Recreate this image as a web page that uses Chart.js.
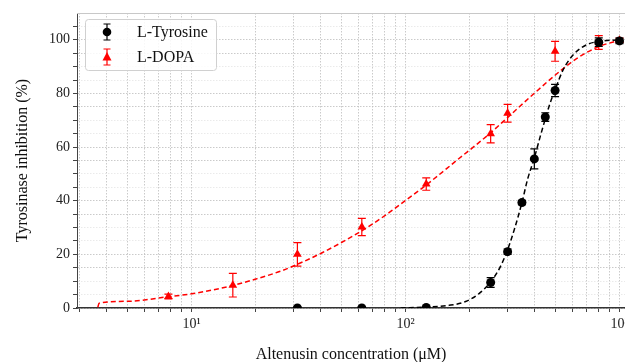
<!DOCTYPE html>
<html>
<head>
<meta charset="utf-8">
<script src="https://cdn.jsdelivr.net/npm/chart.js@4.4.0/dist/chart.umd.min.js"></script>
<style>
  html, body { margin: 0; padding: 0; background: #fff; }
  #wrap { width: 625px; height: 362px; }
</style>
</head>
<body>
<div id="wrap"><canvas id="chart" width="625" height="362"></canvas></div>
<script>
// L-Tyrosine: measured points (uM, % inhibition, +/- error)
const concTyr = [31.25, 62.5, 125, 250, 300, 350, 400, 450, 500, 800, 1000];
const inhTyr  = [0, 0, 0.2, 9.5, 21, 39.3, 55.6, 71.2, 81.1, 99.1, 99.6];
const errTyr  = [0.3, 0.3, 0.4, 1.8, 1.0, 0.8, 3.7, 1.6, 2.3, 1.6, 1.0];

// L-DOPA: measured points
const concDopa = [7.8, 15.6, 31.25, 62.5, 125, 250, 300, 500, 800, 1000];
const inhDopa  = [4.3, 8.5, 20, 30.2, 46.2, 65, 72.6, 95.7, 99, 99.8];
const errDopa  = [0.9, 4.4, 4.4, 3.2, 2.3, 3.4, 3.3, 3.7, 2.6, 0.8];

// fitted curves
const fitTyrX = [95, 127, 160, 191, 220, 247, 275, 297, 322, 350, 372, 400, 426, 450, 474, 500, 545, 608, 700, 800, 1000];
const fitTyrY = [0, 0.4, 1.0, 2.4, 5.3, 9.2, 14.8, 20.8, 29.1, 39.3, 48, 56, 63.9, 70.5, 76.4, 81.3, 88.8, 94.4, 98.1, 99.4, 100];
const fitDopaX = [3.65, 3.7, 5, 7.8, 10, 15.6, 20, 26, 31.25, 41, 62.5, 81, 94, 127, 172, 249, 296, 394, 500, 630, 795, 1000];
const fitDopaY = [0.3, 1.8, 2.5, 4.2, 5.3, 8.4, 10.8, 13.7, 16.3, 20.7, 28.8, 34.7, 38.5, 46.3, 54.8, 65.2, 70.6, 79.6, 86.8, 93, 97.4, 99.8];

// axis ticks
const xMajorTicks = [10, 100, 1000];
const xMajorLabels = ['10\u00B9', '10\u00B2', '10\u00B3'];
const yLabelStep = 20;

const serif = 'Liberation Serif';
const toPts = (xs, ys) => xs.map((x, i) => ({ x, y: ys[i] }));

/**
 * Draw vertical error bars with caps before a dataset's markers
 */
const errorBars = {
  id: 'errorBars',
  beforeDatasetDraw(chart, args) {
    const ds = chart.data.datasets[args.index];
    if (!ds.errors) return;
    const { ctx, chartArea, scales: { x, y } } = chart;
    ctx.save();
    ctx.beginPath();
    ctx.rect(chartArea.left, chartArea.top, chartArea.right - chartArea.left, chartArea.bottom - chartArea.top);
    ctx.clip();
    ctx.strokeStyle = ds.borderColor;
    ctx.lineWidth = 1.2;
    ds.data.forEach((p, i) => {
      const e = ds.errors[i];
      const px = x.getPixelForValue(p.x);
      const top = y.getPixelForValue(p.y + e);
      const bot = y.getPixelForValue(p.y - e);
      ctx.beginPath();
      ctx.moveTo(px, top); ctx.lineTo(px, bot);
      ctx.moveTo(px - 4, top); ctx.lineTo(px + 4, top);
      ctx.moveTo(px - 4, bot); ctx.lineTo(px + 4, bot);
      ctx.stroke();
    });
    ctx.restore();
  }
};

/**
 * Top frame line and the boxed legend with error-bar markers
 */
const frameAndLegend = {
  id: 'frameAndLegend',
  afterDraw(chart) {
    const { ctx, chartArea } = chart;
    ctx.save();
    ctx.strokeStyle = '#c8c8c8';
    ctx.lineWidth = 1;
    ctx.beginPath();
    ctx.moveTo(chartArea.left, chartArea.top + 0.5);
    ctx.lineTo(chartArea.right, chartArea.top + 0.5);
    ctx.stroke();

    // legend box
    ctx.fillStyle = 'rgba(255,255,255,0.85)';
    ctx.strokeStyle = '#d0d0d0';
    ctx.beginPath();
    ctx.roundRect(85.5, 19.5, 131, 51, 3);
    ctx.fill();
    ctx.stroke();

    const items = [
      { label: 'L-Tyrosine', color: '#000', y: 32, shape: 'circle' },
      { label: 'L-DOPA', color: '#f00', y: 57, shape: 'triangle' }
    ];
    items.forEach(it => {
      const mx = 107;
      ctx.strokeStyle = it.color;
      ctx.fillStyle = it.color;
      ctx.lineWidth = 1.2;
      ctx.beginPath();
      ctx.moveTo(mx, it.y - 8); ctx.lineTo(mx, it.y + 8);
      ctx.moveTo(mx - 3.5, it.y - 8); ctx.lineTo(mx + 3.5, it.y - 8);
      ctx.moveTo(mx - 3.5, it.y + 8); ctx.lineTo(mx + 3.5, it.y + 8);
      ctx.stroke();
      ctx.beginPath();
      if (it.shape === 'circle') {
        ctx.arc(mx, it.y, 4.3, 0, Math.PI * 2);
      } else {
        ctx.moveTo(mx, it.y - 5);
        ctx.lineTo(mx + 4.5, it.y + 3.5);
        ctx.lineTo(mx - 4.5, it.y + 3.5);
        ctx.closePath();
      }
      ctx.fill();
      ctx.fillStyle = '#111';
      ctx.font = `16px "${serif}"`;
      ctx.textBaseline = 'middle';
      ctx.textAlign = 'left';
      ctx.fillText(it.label, 137, it.y + 1);
    });
    ctx.restore();
  }
};

const gridGray = '#bdbdbd';

new Chart(document.getElementById('chart'), {
  type: 'scatter',
  data: {
    datasets: [
      {
        label: 'L-Tyrosine',
        data: toPts(concTyr, inhTyr),
        errors: errTyr,
        backgroundColor: '#000',
        borderColor: '#000',
        pointStyle: 'circle',
        pointRadius: 4.5,
        borderWidth: 0,
        clip: 0,
        order: 1
      },
      {
        label: 'L-DOPA',
        data: toPts(concDopa, inhDopa),
        errors: errDopa,
        backgroundColor: '#f00',
        borderColor: '#f00',
        pointStyle: 'triangle',
        pointRadius: 5,
        borderWidth: 0,
        clip: 0,
        order: 1
      },
      {
        label: 'Tyrosine fit',
        type: 'line',
        data: toPts(fitTyrX, fitTyrY),
        borderColor: '#000',
        borderWidth: 1.5,
        borderDash: [5, 3],
        pointRadius: 0,
        cubicInterpolationMode: 'monotone',
        clip: 0,
        order: 2
      },
      {
        label: 'DOPA fit',
        type: 'line',
        data: toPts(fitDopaX, fitDopaY),
        borderColor: '#f00',
        borderWidth: 1.5,
        borderDash: [5, 3],
        pointRadius: 0,
        cubicInterpolationMode: 'monotone',
        clip: 0,
        order: 2
      }
    ]
  },
  options: {
    responsive: false,
    maintainAspectRatio: false,
    animation: false,
    devicePixelRatio: 1,
    layout: { autoPadding: false, padding: { top: 13, right: 0, left: 0, bottom: 0 } },
    plugins: {
      legend: { display: false },
      tooltip: { enabled: false }
    },
    scales: {
      x: {
        type: 'logarithmic',
        min: 2.917,
        max: 1061,
        afterBuildTicks: (scale) => {
          const ticks = [];
          for (let d = 1; d <= 1000; d *= 10) {
            for (let m = 1; m <= 9; m++) {
              const v = m * d;
              if (v >= 3 && v <= 1000) ticks.push({ value: v, major: m === 1 });
            }
          }
          scale.ticks = ticks;
        },
        afterFit: (scale) => {
          scale.height = 54;
          scale.paddingLeft = 0;
          scale.paddingRight = 0;
        },
        ticks: {
          autoSkip: false,
          maxRotation: 0,
          padding: 4,
          color: '#222',
          font: { family: serif, size: 14 },
          callback: (value) => {
            const i = xMajorTicks.indexOf(value);
            return i >= 0 ? xMajorLabels[i] : '';
          }
        },
        grid: {
          color: gridGray,
          lineWidth: 0.8,
          tickLength: 4,
          tickColor: '#444',
          tickWidth: 1,
          tickBorderDash: []
        },
        border: { color: '#333', width: 1.5, dash: [1.5, 1.5] },
        title: {
          display: true,
          text: 'Altenusin concentration (\u03BCM)',
          color: '#111',
          font: { family: serif, size: 16 },
          padding: { top: 0, bottom: -2 }
        }
      },
      y: {
        min: 0,
        max: 110,
        afterFit: (scale) => {
          scale.width = 77;
          scale.paddingTop = 0;
          scale.paddingBottom = 0;
        },
        ticks: {
          stepSize: 5,
          autoSkip: false,
          padding: 3,
          color: '#222',
          font: { family: serif, size: 14 },
          callback: (value) => (value % yLabelStep === 0 && value <= 100 ? String(value) : '')
        },
        grid: {
          color: (ctx) => {
            const v = ctx.tick ? ctx.tick.value : 0;
            if (v >= 110) return 'rgba(0,0,0,0)';
            if (v % 20 === 0 || v % 20 === 15) return gridGray;
            return '#e4e4e4';
          },
          lineWidth: 0.8,
          tickLength: 4,
          tickColor: (ctx) => (ctx.tick && ctx.tick.value >= 110 ? 'rgba(0,0,0,0)' : '#444'),
          tickWidth: 1,
          tickBorderDash: []
        },
        border: { color: '#444', width: 1, dash: [1.5, 1.5] },
        title: {
          display: true,
          text: 'Tyrosinase inhibition (%)',
          color: '#111',
          font: { family: serif, size: 16 },
          padding: { top: 13, bottom: 0 }
        }
      }
    }
  },
  plugins: [errorBars, frameAndLegend]
});
</script>
</body>
</html>
